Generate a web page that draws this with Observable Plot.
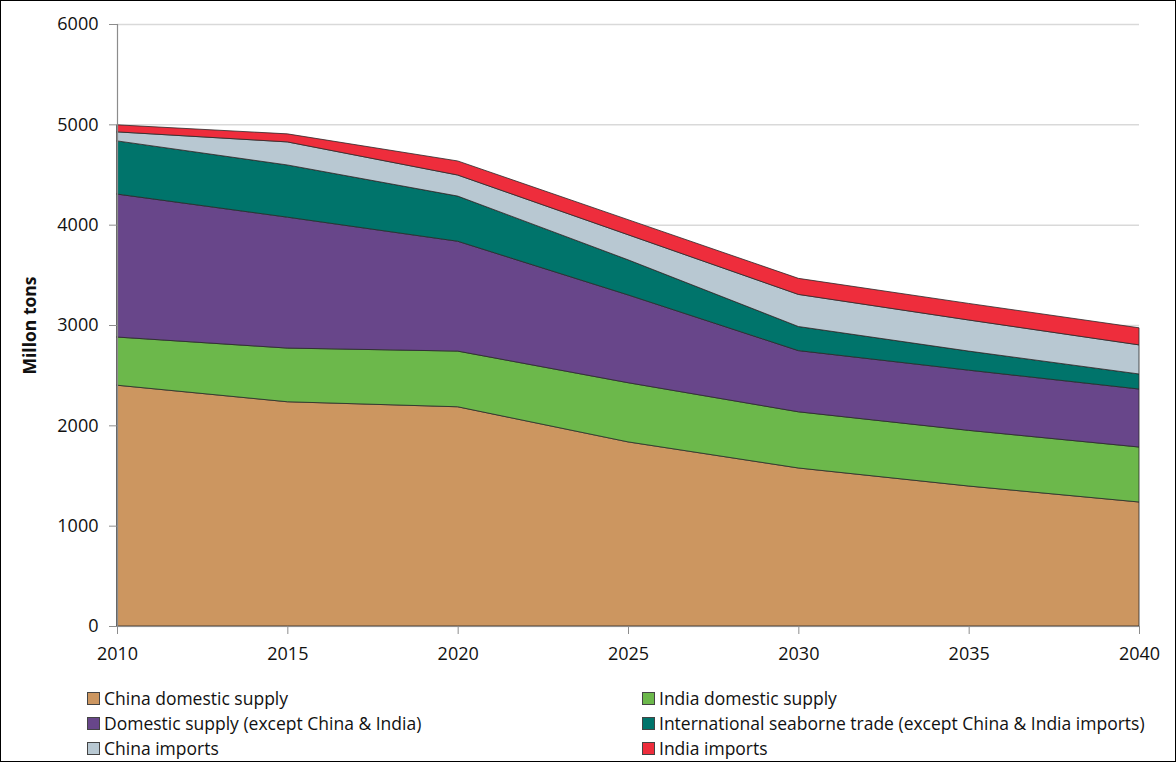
<!DOCTYPE html>
<html><head><meta charset="utf-8">
<script src="https://cdn.jsdelivr.net/npm/d3@7"></script>
<script src="https://cdn.jsdelivr.net/npm/@observablehq/plot@0.6"></script>
<style>
body{margin:0;background:#fff;}
#frame{position:relative;width:1174px;height:760px;border:1px solid #000;overflow:hidden;font-family:"Open Sans",Lato,sans-serif;background:#fff;}
#chart{position:absolute;left:0;top:0;}
#legend{position:absolute;left:86px;top:687px;width:1088px;display:grid;grid-template-columns:555px 533px;row-gap:5px;font-size:17.5px;color:#111;}
.item{display:flex;align-items:center;height:20px;white-space:nowrap;}
.sw{width:13px;height:13px;border:1px solid #444;margin-right:4px;box-sizing:border-box;flex:none;}
</style>
</head><body>
<div id="frame"><div id="chart"></div><div id="legend"></div></div>
<script>
const years = [2010, 2015, 2020, 2025, 2030, 2035, 2040];
const seriesNames = [
  "China domestic supply",
  "India domestic supply",
  "Domestic supply (except China & India)",
  "International seaborne trade (except China & India imports)",
  "China imports",
  "India imports"
];
const chinaDomestic = [2400, 2235, 2185, 1835, 1575, 1395, 1236];
const indiaDomestic = [480, 535, 555, 590, 560, 555, 548];
const domesticOther = [1425, 1305, 1095, 875, 610, 600, 578];
const seaborne      = [530, 520, 450, 350, 240, 190, 150];
const chinaImports  = [90, 230, 210, 250, 320, 310, 290];
const indiaImports  = [70, 80, 140, 150, 160, 165, 170];
const colors = ["#cc9660", "#6cb84b", "#68468a", "#00746b", "#b8c8d2", "#ee2d3c"];
const yTicks = [0, 1000, 2000, 3000, 4000, 5000, 6000];

const seriesValues = [chinaDomestic, indiaDomestic, domesticOther, seaborne, chinaImports, indiaImports];
const data = [];
seriesNames.forEach((name, i) => years.forEach((yr, j) => data.push({year: yr, series: name, value: seriesValues[i][j]})));

const plot = Plot.plot({
  width: 1174,
  height: 680,
  marginLeft: 116,
  marginRight: 36,
  marginTop: 23,
  marginBottom: 55,
  style: {fontFamily: "'Open Sans', Lato, sans-serif", fontSize: "18px", color: "#111", background: "#fff"},
  x: {domain: [2010, 2040], ticks: years, tickFormat: "d"},
  y: {domain: [0, 6000], ticks: yTicks, tickFormat: "d"},
  color: {domain: seriesNames, range: colors},
  marks: [
    Plot.gridY(yTicks, {stroke: "#d9d9d9", strokeOpacity: 1, strokeWidth: 1.5}),
    Plot.areaY(data, {x: "year", y: "value", z: "series", fill: "series", order: seriesNames, stroke: "#2a2a2a", strokeWidth: 0.8, fillOpacity: 1}),
    Plot.ruleX([2010], {stroke: "#8c8c8c", strokeWidth: 1.2}),
    Plot.ruleY([0], {stroke: "#8c8c8c", strokeWidth: 1.2}),
    Plot.axisY(yTicks, {tickSize: 8, tickPadding: 11, stroke: "#8c8c8c", label: null, tickFormat: "d", fontSize: 18}),
    Plot.axisX(years, {tickSize: 8, tickPadding: 13, stroke: "#8c8c8c", label: null, tickFormat: "d", fontSize: 18}),
    Plot.text(["Millon tons"], {frameAnchor: "left", textAnchor: "middle", rotate: -90, dx: -87, fontWeight: "bold", fontSize: 17.5})
  ]
});
document.getElementById("chart").appendChild(plot);

const legend = document.getElementById("legend");
seriesNames.forEach((name, i) => {
  const it = document.createElement("div");
  it.className = "item";
  const sw = document.createElement("span");
  sw.className = "sw";
  sw.style.background = colors[i];
  const t = document.createElement("span");
  t.textContent = name;
  it.appendChild(sw); it.appendChild(t);
  legend.appendChild(it);
});
</script>
</body></html>
